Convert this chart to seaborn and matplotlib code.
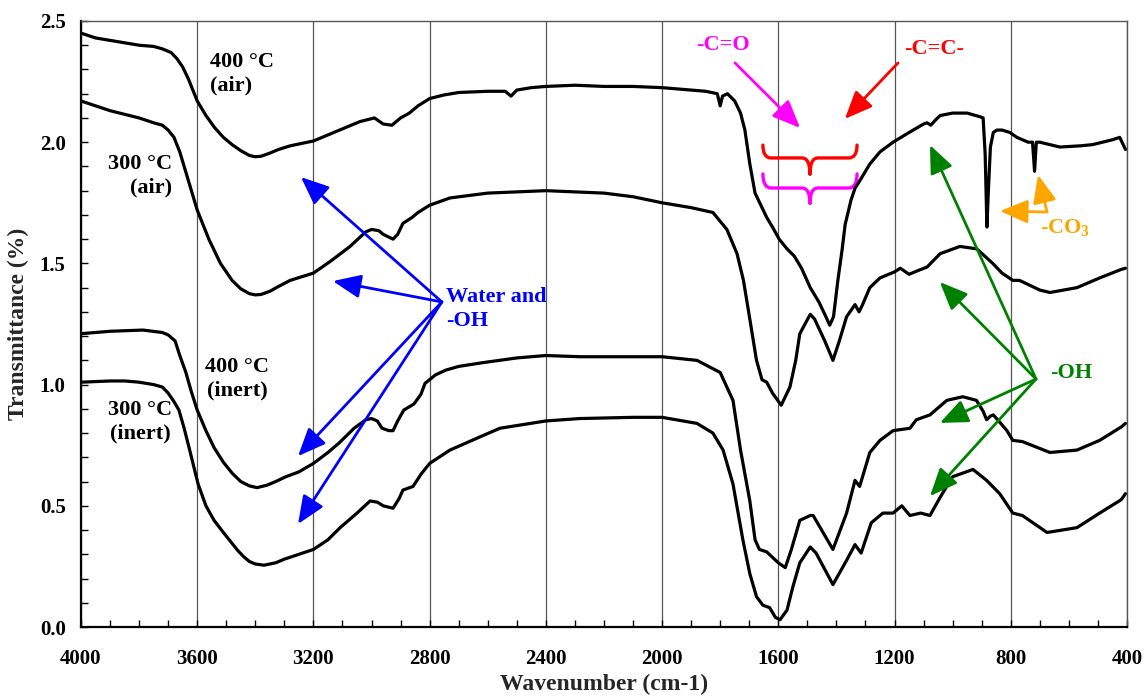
import numpy as np
import pandas as pd
import matplotlib
matplotlib.use("Agg")
import matplotlib.pyplot as plt
import seaborn as sns
from matplotlib.path import Path
from matplotlib.patches import PathPatch
from matplotlib.ticker import MultipleLocator

# ---- spectra (wavenumber cm-1, transmittance) ----
air400_wn = [4000, 3950, 3900, 3850, 3800, 3750, 3720, 3690, 3670, 3650, 3630, 3600, 3570, 3540,
             3510, 3480, 3450, 3420, 3400, 3380, 3350, 3320, 3280, 3200, 3120, 3040, 2990, 2960,
             2930, 2900, 2870, 2840, 2800, 2750, 2700, 2600, 2540, 2520, 2500, 2450, 2400, 2300,
             2200, 2100, 2000, 1900, 1850, 1810, 1800, 1792, 1775, 1750, 1730, 1715, 1698, 1680,
             1660, 1640, 1620, 1597, 1570, 1545, 1520, 1490, 1460, 1440, 1423, 1410, 1395, 1380,
             1370, 1350, 1336, 1320, 1285, 1250, 1205, 1150, 1100, 1088, 1075, 1060, 1043, 1000,
             950, 906, 895, 888, 882, 877, 870, 860, 848, 830, 803, 779, 740, 725, 718, 712, 700,
             631, 560, 518, 450, 425, 405]
air400_t = [2.45, 2.43, 2.42, 2.41, 2.40, 2.395, 2.385, 2.37, 2.345, 2.31, 2.26, 2.17, 2.11, 2.06,
            2.02, 1.99, 1.965, 1.945, 1.94, 1.942, 1.955, 1.97, 1.985, 2.005, 2.045, 2.085, 2.10, 2.075,
            2.07, 2.10, 2.12, 2.15, 2.18, 2.195, 2.205, 2.21, 2.21, 2.19, 2.215, 2.225, 2.23, 2.235,
            2.23, 2.23, 2.225, 2.215, 2.21, 2.20, 2.15, 2.19, 2.20, 2.17, 2.12, 2.05, 1.91, 1.79,
            1.74, 1.69, 1.65, 1.60, 1.56, 1.53, 1.48, 1.40, 1.34, 1.29, 1.245, 1.28, 1.43, 1.56,
            1.66, 1.76, 1.81, 1.84, 1.91, 1.96, 2.00, 2.04, 2.075, 2.08, 2.07, 2.09, 2.11, 2.12,
            2.12, 2.105, 2.10, 1.95, 1.65, 1.80, 1.98, 2.04, 2.05, 2.05, 2.04, 2.02, 2.00, 2.00, 1.88,
            2.00, 2.00, 1.98, 1.985, 1.99, 2.01, 2.02, 1.97]

air300_wn = [4000, 3950, 3900, 3850, 3800, 3750, 3720, 3700, 3680, 3660, 3640, 3620, 3600, 3560,
             3520, 3480, 3450, 3420, 3400, 3380, 3350, 3320, 3280, 3200, 3140, 3074, 3020, 3000,
             2975, 2960, 2926, 2910, 2892, 2860, 2840, 2800, 2730, 2600, 2400, 2300, 2200, 2100,
             2000, 1900, 1825, 1777, 1742, 1720, 1698, 1675, 1656, 1640, 1620, 1590, 1560, 1540,
             1526, 1490, 1475, 1440, 1412, 1390, 1365, 1336, 1322, 1310, 1285, 1250, 1200, 1180,
             1150, 1120, 1088, 1043, 975, 917, 862, 830, 793, 770, 700, 665, 572, 494, 420, 405]
air300_t = [2.17, 2.15, 2.13, 2.115, 2.10, 2.08, 2.07, 2.05, 2.02, 1.96, 1.88, 1.80, 1.72, 1.60,
            1.50, 1.43, 1.395, 1.375, 1.37, 1.372, 1.385, 1.405, 1.43, 1.46, 1.51, 1.57, 1.63, 1.64,
            1.635, 1.62, 1.60, 1.62, 1.665, 1.69, 1.71, 1.74, 1.77, 1.79, 1.80, 1.795, 1.79, 1.775,
            1.75, 1.73, 1.71, 1.64, 1.54, 1.43, 1.27, 1.10, 1.02, 1.01, 0.965, 0.915, 0.99, 1.10,
            1.21, 1.29, 1.27, 1.18, 1.10, 1.18, 1.28, 1.33, 1.30, 1.33, 1.40, 1.44, 1.465, 1.48,
            1.455, 1.47, 1.485, 1.54, 1.57, 1.56, 1.50, 1.46, 1.43, 1.43, 1.39, 1.38, 1.40, 1.44, 1.475, 1.48]

inert400_wn = [4000, 3900, 3787, 3720, 3700, 3676, 3660, 3639, 3620, 3600, 3570, 3542, 3510, 3480,
               3450, 3420, 3394, 3360, 3330, 3295, 3250, 3200, 3150, 3111, 3060, 3020, 3000, 2980,
               2964, 2940, 2926, 2910, 2889, 2854, 2830, 2816, 2780, 2744, 2700, 2620, 2500, 2400,
               2283, 2200, 2100, 2000, 1880, 1800, 1756, 1730, 1698, 1680, 1665, 1640, 1600, 1576,
               1555, 1526, 1490, 1480, 1412, 1365, 1336, 1320, 1285, 1250, 1205, 1147, 1125, 1078,
               1020, 965, 918, 895, 883, 870, 860, 845, 813, 793, 760, 665, 572, 494, 420, 405]
inert400_t = [1.21, 1.22, 1.225, 1.215, 1.205, 1.18, 1.12, 1.05, 0.97, 0.895, 0.81, 0.74, 0.68, 0.635,
              0.60, 0.582, 0.575, 0.585, 0.60, 0.62, 0.64, 0.675, 0.72, 0.76, 0.82, 0.855, 0.86, 0.85,
              0.82, 0.81, 0.81, 0.85, 0.895, 0.92, 0.96, 1.005, 1.04, 1.06, 1.075, 1.09, 1.11, 1.12,
              1.115, 1.115, 1.115, 1.115, 1.10, 1.05, 0.935, 0.73, 0.52, 0.36, 0.32, 0.31, 0.265, 0.245,
              0.32, 0.44, 0.46, 0.46, 0.32, 0.47, 0.605, 0.58, 0.72, 0.77, 0.81, 0.82, 0.855, 0.875,
              0.935, 0.95, 0.935, 0.89, 0.855, 0.87, 0.875, 0.855, 0.81, 0.77, 0.765, 0.72, 0.73, 0.77,
              0.825, 0.84]

inert300_wn = [4000, 3900, 3849, 3800, 3750, 3720, 3700, 3680, 3663, 3645, 3628, 3597, 3570, 3542,
               3510, 3480, 3460, 3440, 3420, 3400, 3370, 3330, 3300, 3200, 3150, 3108, 3050, 3005,
               2980, 2960, 2926, 2905, 2892, 2857, 2830, 2800, 2730, 2616, 2558, 2400, 2283, 2100,
               2000, 1880, 1825, 1790, 1756, 1722, 1698, 1675, 1653, 1630, 1610, 1594, 1570, 1550,
               1526, 1490, 1470, 1412, 1365, 1336, 1315, 1280, 1240, 1205, 1175, 1147, 1110, 1078,
               1043, 1000, 930, 883, 838, 793, 760, 675, 572, 494, 420, 405]
inert300_t = [1.01, 1.015, 1.015, 1.01, 1.00, 0.99, 0.965, 0.93, 0.895, 0.82, 0.74, 0.59, 0.50, 0.44,
              0.39, 0.345, 0.315, 0.29, 0.27, 0.26, 0.255, 0.265, 0.28, 0.32, 0.36, 0.41, 0.47, 0.52,
              0.515, 0.50, 0.49, 0.53, 0.565, 0.58, 0.63, 0.675, 0.73, 0.79, 0.82, 0.85, 0.86, 0.865,
              0.865, 0.84, 0.80, 0.73, 0.59, 0.36, 0.22, 0.125, 0.09, 0.08, 0.04, 0.03, 0.07, 0.165,
              0.265, 0.33, 0.305, 0.175, 0.275, 0.34, 0.305, 0.43, 0.47, 0.47, 0.50, 0.46, 0.47, 0.46,
              0.535, 0.62, 0.65, 0.605, 0.55, 0.47, 0.46, 0.39, 0.41, 0.47, 0.525, 0.55]

curves = [(air400_wn, air400_t), (air300_wn, air300_t),
          (inert400_wn, inert400_t), (inert300_wn, inert300_t)]

SERIF = ["Liberation Serif", "DejaVu Serif"]

sns.set_theme(style="white")
plt.rcParams["font.family"] = SERIF
plt.rcParams["font.weight"] = "bold"
plt.rcParams["axes.labelweight"] = "bold"

fig = plt.figure(figsize=(11.44, 6.97), dpi=100)
ax = fig.add_axes([0.0708, 0.1004, 0.9143, 0.8695])

for wn, t in curves:
    sns.lineplot(x=wn, y=t, ax=ax, color="black", lw=2.3, estimator=None,
                 solid_joinstyle="round", solid_capstyle="round")

ax.set_xlim(4000, 400)
ax.set_ylim(0, 2.5)
ax.set_xticks(np.arange(400, 4001, 400))
ax.set_yticks(np.arange(0, 2.51, 0.5))
ax.set_yticklabels([f"{v:.1f}" for v in np.arange(0, 2.51, 0.5)])
ax.xaxis.set_minor_locator(MultipleLocator(100))
ax.yaxis.set_minor_locator(MultipleLocator(0.1))
ax.tick_params(axis="x", which="both", direction="in", length=5, width=1, bottom=True, top=False,
               labelsize=15, pad=16, colors="black")
ax.tick_params(axis="y", which="both", direction="in", length=5, width=1, left=True, right=False,
               labelsize=15, pad=11, colors="black")
for lab in ax.get_xticklabels() + ax.get_yticklabels():
    lab.set_fontweight("bold")
ax.xaxis.grid(True, color="#555555", lw=0.9)
ax.yaxis.grid(False)
for side in ["left", "bottom"]:
    ax.spines[side].set_color("black")
    ax.spines[side].set_linewidth(1.6)
for side in ["top", "right"]:
    ax.spines[side].set_color("#555555")
    ax.spines[side].set_linewidth(1.0)

ax.set_xlabel("Wavenumber (cm-1)", fontsize=17, fontweight="bold", labelpad=3)
ax.set_ylabel("Transmittance (%)", fontsize=17, fontweight="bold", labelpad=8)

# ---- sample labels ----
lab_kw = dict(fontsize=16, fontweight="bold", color="black", linespacing=1.25, va="center")
ax.text(3556, 2.283, "400 °C\n(air)", ha="left", multialignment="left", **lab_kw)
ax.text(3687, 1.861, "300 °C\n(air)", ha="right", multialignment="right", **lab_kw)
ax.text(3463, 1.023, "400 °C\n(inert)", ha="center", multialignment="center", **lab_kw)
ax.text(3797, 0.846, "300 °C\n(inert)", ha="center", multialignment="center", **lab_kw)


def arrow(tip, start, color):
    ax.annotate("", xy=tip, xytext=start,
                arrowprops=dict(arrowstyle="-|>,head_length=0.85,head_width=0.36",
                                color=color, lw=2.0, mutation_scale=20,
                                shrinkA=0, shrinkB=0))


# water / -OH
blue = "#0000FF"
ax.text(2744, 1.312, "Water and\n-OH", ha="left", va="center", color=blue,
        fontsize=16, fontweight="bold", linespacing=1.25)
for tip in [(3243, 1.856), (3133, 1.427), (3253, 0.705), (3253, 0.425)]:
    arrow(tip, (2758, 1.341), blue)

# -OH green
green = "#008000"
ax.text(665, 1.048, "-OH", ha="left", va="center", color=green, fontsize=16, fontweight="bold")
for tip in [(1078, 1.988), (1044, 1.423), (1044, 0.842), (1078, 0.540)]:
    arrow(tip, (713, 1.023), green)

# carbonyl / alkene
magenta = "#FF00FF"
red = "#FF0000"
ax.text(1790, 2.40, "-C=O", ha="center", va="center", color=magenta, fontsize=16, fontweight="bold")
arrow((1525, 2.059), (1749, 2.327), magenta)
ax.text(1064, 2.385, "-C=C-", ha="center", va="center", color=red, fontsize=16, fontweight="bold")
arrow((1371, 2.096), (1188, 2.327), red)


def brace(x0, x1, ytop, yh, ypt, color):
    xc = (x0 + x1) / 2
    rx = 28
    verts = [(x0, ytop), (x0, yh), (x0 - rx, yh), (xc + rx, yh), (xc, yh), (xc, ypt),
             (xc, ypt), (xc, yh), (xc - rx, yh), (x1 + rx, yh), (x1, yh), (x1, ytop)]
    codes = [Path.MOVETO, Path.CURVE3, Path.CURVE3, Path.LINETO, Path.CURVE3, Path.CURVE3,
             Path.MOVETO, Path.CURVE3, Path.CURVE3, Path.LINETO, Path.CURVE3, Path.CURVE3]
    ax.add_patch(PathPatch(Path(verts, codes), fill=False, edgecolor=color, lw=2.4,
                           capstyle="round", joinstyle="round"))


brace(1653, 1329, 1.988, 1.935, 1.869, red)
brace(1653, 1329, 1.869, 1.811, 1.749, magenta)

# carbonate
orange = "#FFA500"
ax.text(700, 1.646, "-CO$_\\mathregular{3}$", ha="left", va="center", color=orange,
        fontsize=16, fontweight="bold")
arrow((837, 1.716), (675, 1.712), orange)
arrow((706, 1.865), (675, 1.712), orange)

fig.savefig("out.png", dpi=100)
